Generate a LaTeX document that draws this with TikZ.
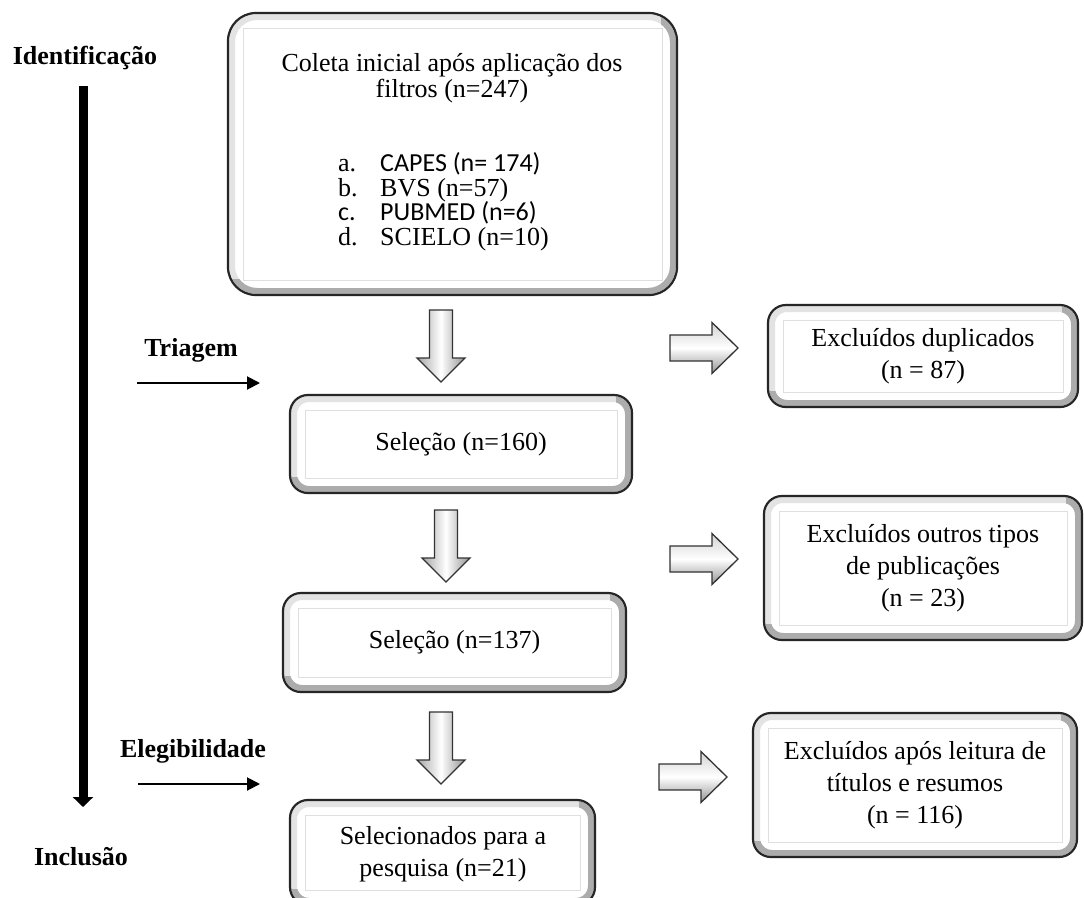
\documentclass[tikz,border=0pt]{standalone}
\usepackage{fontspec}
\setmainfont{Liberation Serif}
\newfontfamily\calfont{Carlito}
\usetikzlibrary{arrows.meta,calc}
\tikzset{
  boxtext/.style={align=center, inner sep=0pt, font=\fontsize{26}{32}\selectfont},
  listtext/.style={inner sep=0pt, font=\fontsize{26}{26}\selectfont},
  phase/.style={font=\bfseries\fontsize{26}{30}\selectfont, inner sep=0pt},
  thinarrow/.style={line width=2pt, -{Triangle[width=13pt,length=13pt]}},
  bigline/.style={line width=9pt, -{Triangle[width=20pt,length=10pt]}},
  blockarrow/.style={draw=black!80, line width=1.3pt, line join=miter},
  pics/downarr/.style={code={
    \shade[blockarrow, left color=gray!70, right color=gray!85, middle color=white]
      (-11.5,0) -- (11.5,0) -- (11.5,48) -- (24,48) -- (0,72) -- (-24,48) -- (-11.5,48) -- cycle;}},
  pics/rightarr/.style={code={
    \shade[blockarrow, top color=gray!35, bottom color=gray!85, middle color=white]
      (0,-13) -- (42,-13) -- (42,-25.5) -- (68,0) -- (42,25.5) -- (42,13) -- (0,13) -- cycle;}},
}
% name, x1, y1, x2, y2, radius, text
\newcommand\bevbox[7]{%
  \pgfmathsetmacro\bevr{#6-3}%
  \fill[white, rounded corners=#6pt] (#2,#3) rectangle (#4,#5);
  \draw[gray!22, line width=6pt, rounded corners=\bevr pt] ($(#2,#3)+(4,4)$) rectangle ($(#4,#5)+(-4,-4)$);
  \begin{scope}
    \clip (#2,#5) -- (#4,#5) -- (#4,#3) -- ($(#4,#3)+(-16,0)$) -- ($(#4,#5)+(-16,-16)$) -- ($(#2,#5)+(0,-16)$) -- cycle;
    \draw[gray!65, line width=6pt, rounded corners=\bevr pt] ($(#2,#3)+(4,4)$) rectangle ($(#4,#5)+(-4,-4)$);
  \end{scope}
  \draw[gray!25, line width=1pt] ($(#2,#3)+(15,15)$) rectangle ($(#4,#5)+(-15,-15)$);
  \draw[black!85, line width=2.2pt, rounded corners=#6pt] (#2,#3) rectangle (#4,#5);
  \node[boxtext] (#1) at ($(#2,#3)!0.5!(#4,#5)$) {#7};
}
\begin{document}
\begin{tikzpicture}[x=1pt,y=-1pt]
\useasboundingbox (0,0) rectangle (1084,897);
\fill[white] (0,0) rectangle (1084,897);
\clip (0,0) rectangle (1084,897);

% phase labels and axis
\node[phase] (ident) at (85,58) {Identificação};
\node[phase] (triag) at (191,350) {Triagem};
\node[phase] (eleg) at (193,751) {Elegibilidade};
\node[phase] (incl) at (81,857) {Inclusão};
\coordinate (vtop) at (83,86);
\coordinate (vbot) at (83,807);
\draw[bigline] (vtop) -- (vbot);
\coordinate (t1) at (137,383);
\coordinate (t2) at (260,383);
\draw[thinarrow] (t1) -- (t2);
\coordinate (e1) at (138,784);
\coordinate (e2) at (260,784);
\draw[thinarrow] (e1) -- (e2);

% main box
\bevbox{main}{228}{13}{677}{295}{28}{}
\node[listtext, anchor=base] (l1) at (452,71) {Coleta inicial após aplicação dos};
\node[listtext, anchor=base] (l2) at (452,97) {filtros (n=247)};
\node[listtext, anchor=base west] (la) at (338,171) {a.};
\node[listtext, anchor=base west] (ta) at (380,171) {\calfont CAPES (n= 174)};
\node[listtext, anchor=base west] (lb) at (338,196) {b.};
\node[listtext, anchor=base west] (tb) at (380,196) {BVS (n=57)};
\node[listtext, anchor=base west] (lc) at (338,220) {\calfont c.};
\node[listtext, anchor=base west] (tc) at (380,220) {\calfont PUBMED (n=6)};
\node[listtext, anchor=base west] (ld) at (338,245) {d.};
\node[listtext, anchor=base west] (td) at (380,245) {SCIELO (n=10)};

% selection boxes
\bevbox{sel1}{290}{395}{632}{493}{18}{Seleção (n=160)}
\bevbox{sel2}{283}{593}{626}{692}{18}{Seleção (n=137)}
\bevbox{final}{290}{800}{595}{905}{18}{}
\node[boxtext] (finaltxt) at (443,854) {Selecionados para a\\pesquisa (n=21)};

% excluded boxes
\bevbox{exc1}{768}{305}{1078}{407}{18}{Excluídos duplicados\\(n = 87)}
\bevbox{exc2}{764}{496}{1082}{640}{18}{Excluídos outros tipos\\de publicações\\(n = 23)}
\bevbox{exc3}{753}{713}{1077}{857}{18}{Excluídos após leitura de\\títulos e resumos\\(n = 116)}

% block arrows
\coordinate (d1) at (441,310);
\coordinate (d2) at (446,510);
\coordinate (d3) at (441,712);
\pic at (d1) {downarr};
\pic at (d2) {downarr};
\pic at (d3) {downarr};
\coordinate (r1) at (670,348);
\coordinate (r2) at (670,559);
\coordinate (r3) at (659,777);
\pic at (r1) {rightarr};
\pic at (r2) {rightarr};
\pic at (r3) {rightarr};
\end{tikzpicture}
\end{document}
